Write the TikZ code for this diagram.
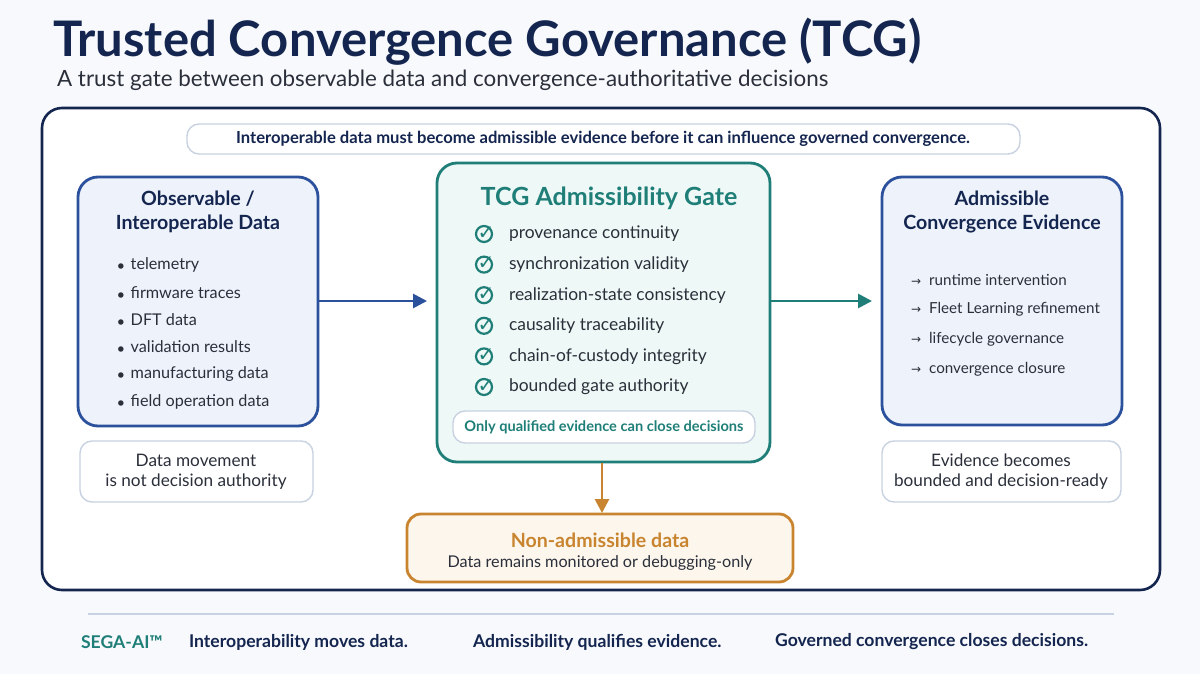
\documentclass[tikz,border=0pt]{standalone}
\usepackage{fontspec}
\setmainfont{Lato}
\newfontfamily\symfont{DejaVu Sans}
\usetikzlibrary{arrows.meta}
\definecolor{navy}{HTML}{14254F}
\definecolor{bblue}{HTML}{2B509C}
\definecolor{bfill}{HTML}{EEF3FB}
\definecolor{teal}{HTML}{1F7F78}
\definecolor{tfill}{HTML}{EEF8F6}
\definecolor{orng}{HTML}{C8842F}
\definecolor{ofill}{HTML}{FDF6EC}
\definecolor{txt}{HTML}{2A2F3A}
\definecolor{gbord}{HTML}{C9D2E0}
\definecolor{bg}{HTML}{F7F9FC}
\tikzset{
 panel/.style={rounded corners=10pt, line width=1.4pt},
 note/.style={draw=gbord, fill=white, rounded corners=6pt, line width=0.7pt},
 body/.style={font=\fontsize{8.1}{10}\selectfont, text=txt},
 head/.style={font=\bfseries\fontsize{9.8}{12}\selectfont, text=navy, align=center},
 arr/.style={line width=1.4pt, -{Triangle[length=7pt,width=7pt]}},
 foot/.style={font=\bfseries\fontsize{8.8}{10}\selectfont, text=navy, anchor=west},
}
\begin{document}
\begin{tikzpicture}[x=0.5pt,y=-0.5pt]
\fill[bg] (0,0) rectangle (1200,674);
\useasboundingbox (0,0) rectangle (1200,674);
\node[anchor=west, font=\bfseries\fontsize{24.5}{28}\selectfont, text=navy] (title) at (46,42) {Trusted Convergence Governance (TCG)};
\node[anchor=west, font=\fontsize{11.2}{13}\selectfont, text=txt] (sub) at (50,80) {A trust gate between observable data and convergence-authoritative decisions};
\draw[navy, line width=1.3pt, fill=white, rounded corners=10pt] (42,108) rectangle (1160,590);
\draw[note] (187,124) rectangle (1020,154);
\node[font=\bfseries\fontsize{8.3}{10}\selectfont, text=navy] (banner) at (603,139) {Interoperable data must become admissible evidence before it can influence governed convergence.};
% left
\draw[panel, draw=bblue, fill=bfill] (78,177) rectangle (318,426);
\node[head] (lh) at (198,212) {Observable /\\Interoperable Data};
\foreach \t [count=\i] in {telemetry, firmware traces, DFT data, validation results, manufacturing data, field operation data}{
 \node[body, anchor=west] (l\i) at (110,{265+27.3*(\i-1)}) {{\fontsize{6}{8}\selectfont$\bullet$}\hspace{3pt}\t};
}
\draw[note] (80,441) rectangle (313,502);
\node[body, align=center, font=\fontsize{8.6}{10}\selectfont] (ln) at (196,472) {Data movement\\is not decision authority};
% centre
\draw[panel, draw=teal, fill=tfill] (437,163) rectangle (770,462);
\node[font=\bfseries\fontsize{12.5}{14}\selectfont, text=teal] (ch) at (609,198) {TCG Admissibility Gate};
\foreach \t [count=\i] in {provenance continuity, synchronization validity, realization-state consistency, causality traceability, chain-of-custody integrity, bounded gate authority}{
 \node[font=\symfont\bfseries\fontsize{10}{10}\selectfont, text=teal] (ck\i) at (486,{233+30.6*(\i-1)}) {✓};
 \draw[teal, line width=1.1pt] (484,{234+30.6*(\i-1)}) circle (8);
 \node[body, anchor=west, font=\fontsize{8.7}{10}\selectfont] (c\i) at (502,{234+30.6*(\i-1)}) {\t};
}
\draw[note] (453,411) rectangle (755,443);
\node[font=\bfseries\fontsize{7.3}{9}\selectfont, text=teal] (cn) at (604,427) {Only qualified evidence can close decisions};
% right
\draw[panel, draw=bblue, fill=bfill] (882,177) rectangle (1122,425);
\node[head] (rh) at (1002,212) {Admissible\\Convergence Evidence};
\foreach \t [count=\i] in {runtime intervention, Fleet Learning refinement, lifecycle governance, convergence closure}{
 \node[body, anchor=west, font=\fontsize{7.6}{10}\selectfont] (r\i) at (904,{280+29.6*(\i-1)}) {{\symfont\fontsize{6}{8}\selectfont →}\hspace{4pt}\t};
}
\draw[note] (882,441) rectangle (1121,502);
\node[body, align=center, font=\fontsize{8.6}{10}\selectfont] (rn) at (1001,472) {Evidence becomes\\bounded and decision-ready};
% bottom
\draw[panel, draw=orng, fill=ofill, rounded corners=7pt] (407,514) rectangle (793,582);
\node[font=\bfseries\fontsize{9.8}{12}\selectfont, text=orng] (bh) at (600,540) {Non-admissible data};
\node[body] (bs) at (600,563) {Data remains monitored or debugging-only};
% arrows
\coordinate (a1) at (318,301); \coordinate (a2) at (427,301);
\coordinate (b1) at (770,301); \coordinate (b2) at (872,301);
\coordinate (c1) at (602,463); \coordinate (c2) at (602,513);
\draw[arr, bblue] (a1) -- (a2);
\draw[arr, teal] (b1) -- (b2);
\draw[arr, orng] (c1) -- (c2);
% footer
\draw[gbord, line width=1pt] (88,614) -- (1114,614);
\node[foot, text=teal] (f0) at (74,642) {SEGA-AI™};
\node[foot] (f1) at (182,642) {Interoperability moves data.};
\node[foot] (f2) at (466,642) {Admissibility qualifies evidence.};
\node[foot] (f3) at (768,642) {Governed convergence closes decisions.};
\end{tikzpicture}
\end{document}
